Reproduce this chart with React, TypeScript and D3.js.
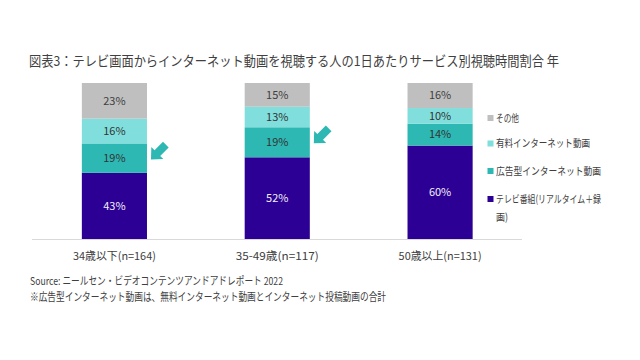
import React from 'react';
import * as d3 from 'd3';

// data
const categories = ['34歳以下(n=164)', '35-49歳(n=117)', '50歳以上(n=131)'];
const seriesNames = ['テレビ番組(リアルタイム＋録画)', '広告型インターネット動画', '有料インターネット動画', 'その他'];
const tvValues = [43, 52, 60];
const adValues = [19, 19, 14];
const paidValues = [16, 13, 10];
const otherValues = [23, 15, 16];
const highlighted = [0, 1]; // bars with the arrow next to the ad segment

const colors = ['#2c0094', '#2db8b4', '#80dfdc', '#bfbfbf'];
const labelColors = ['#f2f0f8', '#333333', '#333333', '#404040'];
const font = '"Noto Sans CJK JP", "Noto Sans", sans-serif';
const textColor = '#404040';

export default function App() {
  const width = 640;
  const height = 360;

  const rows = categories.map((c, i) => ({
    cat: c,
    [seriesNames[0]]: tvValues[i],
    [seriesNames[1]]: adValues[i],
    [seriesNames[2]]: paidValues[i],
    [seriesNames[3]]: otherValues[i],
  }));

  const stack = d3.stack<any>().keys(seriesNames).offset(d3.stackOffsetExpand);
  const stacked = stack(rows);

  const x = d3.scaleBand().domain(categories).range([33, 521.5]).paddingInner(0.6).paddingOuter(0.3);
  const y = d3.scaleLinear().domain([0, 1]).range([239.5, 83]);

  // arrow pointing left, then turned to point down-left
  const arrowPath = 'M0,0 L9,-8.5 L9,-4 L21,-4 L21,4 L9,4 L9,8.5 Z';

  // legend rows, top to bottom (index into seriesNames), with text widths
  const legendOrder = [3, 2, 1, 0];
  const legendY = [118, 143.5, 171, 199];
  const legendLines = [['その他'], ['有料インターネット動画'], ['広告型インターネット動画'], ['テレビ番組(リアルタイム＋録', '画)']];
  const legendWidths = [[23], [94], [105], [105, 12]];

  return (
    <svg width={width} height={height} style={{ position: 'absolute', left: 0, top: 0, background: '#fff' }}
      fontFamily={font}>
      <text x={29} y={66} fontSize={13.5} fill={textColor} textLength={530} lengthAdjust="spacingAndGlyphs">
        図表3：テレビ画面からインターネット動画を視聴する人の1日あたりサービス別視聴時間割合 年
      </text>

      {stacked.map((s, si) => (
        <g key={s.key}>
          {s.map((d, i) => (
            <g key={i}>
              <rect x={x(categories[i])} y={y(d[1])} width={x.bandwidth()} height={y(d[0]) - y(d[1])}
                fill={colors[si]} />
              <text x={x(categories[i])! + x.bandwidth() / 2} y={(y(d[0]) + y(d[1])) / 2}
                dy="0.35em" textAnchor="middle" fontSize={11} fill={labelColors[si]}>
                {(d.data as any)[s.key] + '%'}
              </text>
            </g>
          ))}
        </g>
      ))}

      {highlighted.map(i => {
        const seg = stacked[1][i];
        const tx = x(categories[i])! + x.bandwidth() + 4;
        const ty = y(seg[1]) + 16;
        return <path key={i} d={arrowPath} fill="#2db8b4" transform={`translate(${tx},${ty}) rotate(-45)`} />;
      })}

      <line x1={32} x2={522} y1={239.5} y2={239.5} stroke="#d9d9d9" strokeWidth={1} />

      {categories.map(c => (
        <text key={c} x={x(c)! + x.bandwidth() / 2} y={256} dy="0.35em" textAnchor="middle" fontSize={11}
          fill={textColor} textLength={83} lengthAdjust="spacingAndGlyphs">{c}</text>
      ))}

      {legendOrder.map((si, k) => {
        const ly = legendY[k];
        return (
          <g key={seriesNames[si]}>
            <rect x={487.5} y={ly - 3} width={6} height={6} fill={colors[si]} />
            {legendLines[k].map((t, li) => (
              <text key={li} x={496} y={ly + li * 18.5} dy="0.35em" fontSize={10.5} fill={textColor}
                textLength={legendWidths[k][li]} lengthAdjust="spacingAndGlyphs">{t}</text>
            ))}
          </g>
        );
      })}

      <text x={30} y={281} dy="0.35em" fontSize={11} fill={textColor} textLength={253}
        lengthAdjust="spacingAndGlyphs">
        Source: ニールセン・ビデオコンテンツアンドアドレポート 2022
      </text>
      <text x={30} y={297} dy="0.35em" fontSize={11} fill={textColor} textLength={356}
        lengthAdjust="spacingAndGlyphs">
        ※広告型インターネット動画は、無料インターネット動画とインターネット投稿動画の合計
      </text>
    </svg>
  );
}
